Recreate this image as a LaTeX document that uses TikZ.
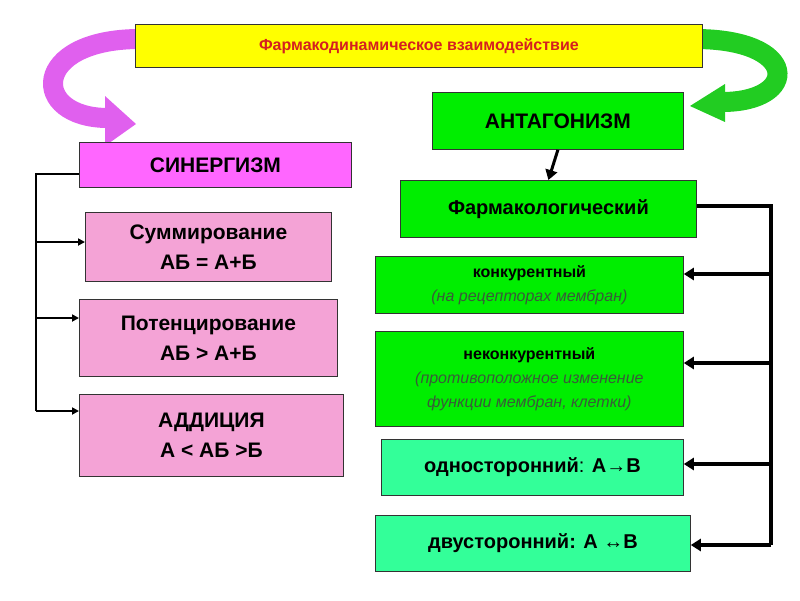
\documentclass[tikz,border=0pt]{standalone}
\usepackage{fontspec}
\usetikzlibrary{arrows.meta}
\setmainfont{Liberation Sans}
\definecolor{ylw}{HTML}{FFFF00}
\definecolor{grn}{HTML}{00EE00}
\definecolor{aqua}{HTML}{33FF99}
\definecolor{mag}{HTML}{FF66FF}
\definecolor{pnk}{HTML}{F4A3D6}
\definecolor{ttl}{HTML}{D42020}
\definecolor{itl}{HTML}{3A5A3A}
\definecolor{marr}{HTML}{E060EE}
\definecolor{garr}{HTML}{22CC22}
\begin{document}
\begin{tikzpicture}[x=1pt,y=-1pt,
  box/.style={draw=black!80,line width=0.8pt,inner sep=0pt,anchor=north west,align=center,font=\bfseries},
  conn/.style={line width=3.5pt},
  tip/.style={-{Triangle[length=10pt,width=12pt]}}]
\useasboundingbox (0,0) rectangle (800,600);
% curved arrows
\draw[marr,line width=20pt] (140,39) .. controls (30,39) and (30,118) .. (108,118);
\fill[marr] (105,96) -- (136,124) -- (105,146) -- cycle;
\draw[garr,line width=20pt] (695,39) .. controls (800,39) and (800,102) .. (722,102);
\fill[garr] (725,84) -- (690,106) -- (725,122) -- cycle;
% boxes
\node[box,fill=ylw,minimum width=567pt,minimum height=43pt,font=\bfseries\fontsize{16}{18}\selectfont,text=ttl] (t) at (135,24) {Фармакодинамическое взаимодействие};
\node[box,fill=grn,minimum width=251pt,minimum height=57pt,font=\bfseries\fontsize{21}{24}\selectfont] (ant) at (432,92) {АНТАГОНИЗМ};
\node[box,fill=mag,minimum width=272pt,minimum height=45pt,font=\bfseries\fontsize{21}{24}\selectfont] (syn) at (79,142) {СИНЕРГИЗМ};
\node[box,fill=grn,minimum width=296pt,minimum height=57pt,font=\bfseries\fontsize{20}{24}\selectfont] (farm) at (400,180) {Фармакологический};
\node[box,fill=pnk,minimum width=246pt,minimum height=69pt,font=\bfseries\fontsize{21}{30}\selectfont] (sum) at (85,212) {Суммирование\\АБ = А+Б};
\node[box,fill=pnk,minimum width=258pt,minimum height=77pt,font=\bfseries\fontsize{21}{30}\selectfont] (pot) at (79,299) {Потенцирование\\АБ > А+Б};
\node[box,fill=pnk,minimum width=264pt,minimum height=82pt,font=\bfseries\fontsize{21}{30}\selectfont] (add) at (79,394) {АДДИЦИЯ\\А < АБ >Б};
\node[box,fill=grn,minimum width=308pt,minimum height=57pt,font=\fontsize{16}{24}\selectfont] (k) at (375,256) {\textbf{конкурентный}\\{\itshape\mdseries\color{itl}(на рецепторах мембран)}};
\node[box,fill=grn,minimum width=308pt,minimum height=95pt,font=\fontsize{16}{24}\selectfont] (nk) at (375,331) {\textbf{неконкурентный}\\{\itshape\mdseries\color{itl}(противоположное изменение}\\{\itshape\mdseries\color{itl}функции мембран, клетки)}};
\node[box,fill=aqua,minimum width=302pt,minimum height=56pt,font=\bfseries\fontsize{20}{24}\selectfont] (one) at (381,439) {односторонний{\mdseries:} А→В};
\node[box,fill=aqua,minimum width=315pt,minimum height=56pt,font=\bfseries\fontsize{20}{24}\selectfont] (two) at (375,515) {двусторонний: А ↔В};
% connectors
\draw[line width=3pt,tip] (ant.south) -- (farm.north);
\coordinate (lt) at (36,174);
\coordinate (lb) at (36,411);
\draw[line width=2.5pt] (syn.west |- lt) -- (lt) -- (lb);
\draw[line width=2pt,-{Triangle[length=7pt,width=7pt]}] (36,242) -- (sum.west |- 0,242);
\draw[line width=2pt,-{Triangle[length=7pt,width=7pt]}] (36,318) -- (pot.west |- 0,318);
\draw[line width=2pt,-{Triangle[length=7pt,width=7pt]}] (lb) -- (add.west |- lb);
\coordinate (rt) at (771,206);
\coordinate (rb) at (771,545);
\draw[conn] (farm.east |- rt) -- (rt) -- (rb);
\draw[line width=3.5pt,tip] (771,274) -- (k.east |- 0,274);
\draw[line width=3.5pt,tip] (771,363) -- (nk.east |- 0,363);
\draw[line width=3.5pt,tip] (771,464) -- (one.east |- 0,464);
\draw[line width=3.5pt,tip] (rb) -- (two.east |- rb);
\end{tikzpicture}
\end{document}
